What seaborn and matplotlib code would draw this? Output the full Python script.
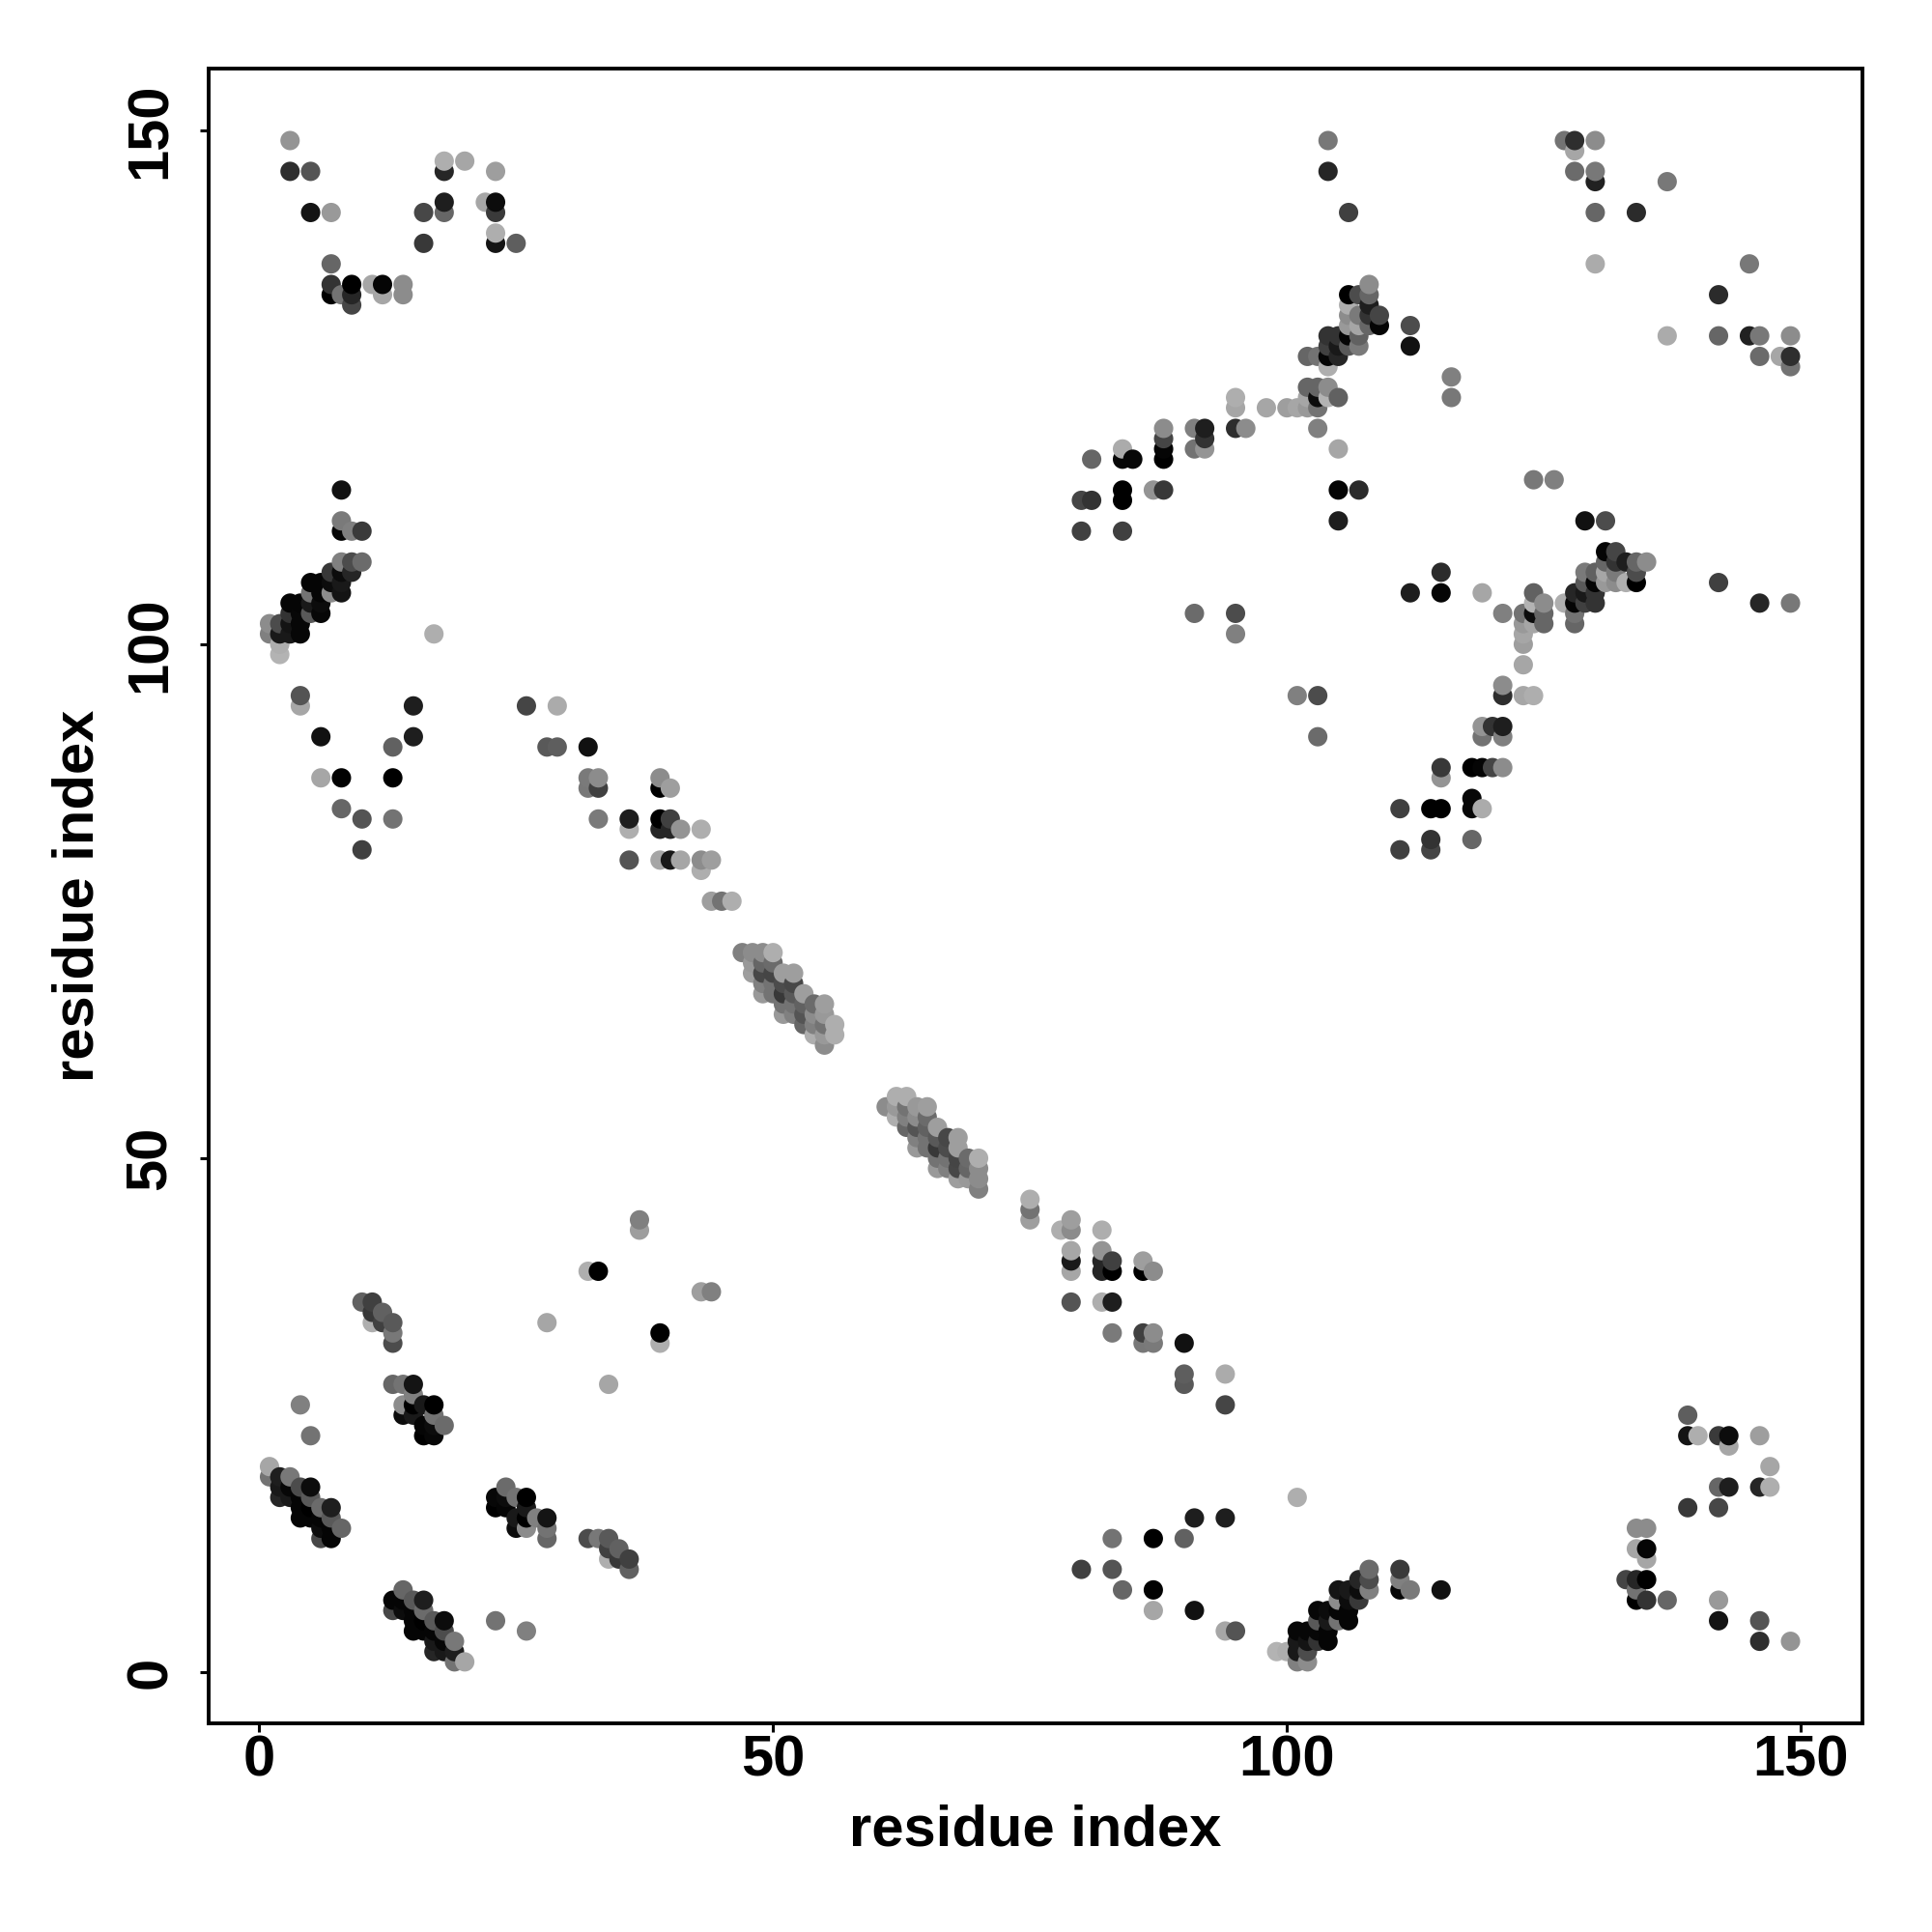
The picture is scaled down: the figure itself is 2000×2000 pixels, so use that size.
import pandas as pd
import matplotlib
matplotlib.use('Agg')
import matplotlib.pyplot as plt
import seaborn as sns

# contacts are listed once (i < j), the map is symmetric so they get mirrored below
# grey level: 0 = black, 1 = white

# top left block
top_i = [3, 3, 5, 5, 7, 7, 7, 7, 8, 9, 9, 9, 11, 12, 12, 14, 14, 16, 16, 18, 18, 20, 18, 18, 23, 22, 23, 23, 23, 23, 25]
top_j = [149, 146, 146, 142, 142, 137, 135, 134, 134, 135, 134, 133, 135, 135, 134, 135, 134, 142, 139, 146, 147, 147, 143, 142, 146, 143, 143, 142, 140, 139, 139]
top_s = [.58, .18, .33, .08, .6, .4, .2, 0, .45, 0, .15, .27, .65, .02, .65, .55, .55, .28, .22, .15, .68, .65, .12, .4, .62, .65, .05, .23, .68, .08, .37]

# strand 1-10 / 99-115
strand_i = [8, 8, 8, 9, 10, 8, 9, 10, 7, 8, 9, 5, 6, 7, 8, 5, 6, 7, 8, 3, 4, 5, 6, 3, 4, 5, 6, 1, 2, 3, 4, 1, 2, 3, 4, 2, 2, 17]
strand_j = [115, 112, 111, 111, 111, 108, 108, 108, 107, 107, 107, 106, 106, 106, 106, 105, 105, 105, 105, 104, 104, 104, 104, 103, 103, 103, 103, 102, 102, 102, 102, 101, 101, 101, 101, 100, 99, 101]
strand_s = [.07, .48, .03, .5, .23, .5, .3, .42, .22, .05, .15, .02, .02, .05, .1, .45, .02, .55, .08, .02, .02, .1, .05, .2, .03, .35, .03, .55, .3, .08, .03, .5, .1, .1, .03, .68, .7, .68]

# scattered 4-15 / 80-95
mid_i = [4, 4, 15, 6, 15, 13, 6, 8, 13, 8, 10, 13, 10]
mid_j = [95, 94, 94, 91, 91, 90, 87, 87, 87, 84, 83, 83, 80]
mid_s = [.33, .65, .12, .07, .12, .38, .65, .01, 0, .4, .33, .45, .25]

# anti-diagonal tail 26-46
tail_i = [26, 29, 28, 29, 32, 32, 33, 32, 33, 33, 36, 36, 39, 39, 40, 39, 40, 39, 40, 41, 43, 36, 39, 40, 41, 43, 44, 43, 44, 45, 46]
tail_j = [94, 94, 90, 90, 90, 87, 87, 86, 86, 83, 83, 82, 87, 86, 86, 83, 83, 82, 82, 82, 82, 79, 79, 79, 79, 79, 79, 78, 75, 75, 75]
tail_s = [.27, .67, .35, .37, .07, .48, .55, .47, .25, .48, .12, .68, .55, 0, .62, 0, .25, .15, .15, .58, .68, .33, .65, .1, .65, .55, .62, .68, .62, .45, .68]

# dense band 47-56 / 61-70
band_i = [47, 48, 48, 48, 49, 49, 49, 49, 49, 50, 50, 50, 50, 50, 51, 51, 51, 51, 51, 52, 52, 52, 52, 52, 53, 53, 53, 53, 54, 54, 54, 54, 55, 55, 55, 55, 55, 56, 56]
band_j = [70, 70, 69, 68, 70, 69, 68, 67, 66, 70, 69, 68, 67, 66, 68, 67, 66, 65, 64, 68, 67, 66, 65, 64, 66, 65, 64, 63, 65, 64, 63, 62, 65, 64, 63, 62, 61, 63, 62]
band_s = [.5, .55, .6, .62, .55, .4, .28, .5, .6, .68, .42, .27, .45, .45, .62, .3, .22, .45, .6, .62, .28, .35, .45, .5, .62, .38, .33, .4, .42, .55, .5, .68, .62, .6, .45, .6, .55, .68, .68]

# bottom left blocks
low_i = [1, 1, 2, 3, 2, 3, 4, 5, 2, 3, 4, 5, 4, 5, 6, 7, 4, 5, 6, 7, 6, 7, 8, 6, 7, 4, 5]
low_j = [20, 19, 19, 19, 18, 18, 18, 18, 17, 17, 17, 17, 16, 16, 16, 16, 15, 15, 15, 15, 14, 14, 14, 13, 13, 26, 23]
low_s = [.65, .45, .12, .47, .1, .03, .3, .05, .15, .1, .02, .35, .02, 0, .42, .12, .02, .02, .02, .35, .05, .02, .4, .28, .02, .5, .45]

hair_i = [13, 14, 15, 15, 14, 15, 16, 17, 14, 15, 17, 16, 17, 18, 16, 17, 10, 11, 11, 12, 11, 12, 13, 13, 13, 28, 32, 33, 37, 37]
hair_j = [28, 28, 28, 27, 26, 26, 26, 26, 25, 25, 25, 24, 24, 24, 23, 23, 36, 36, 35, 35, 34, 34, 34, 33, 32, 34, 39, 39, 44, 43]
hair_s = [.4, .45, .08, .5, .55, 0, .1, 0, .05, .1, .45, .02, .05, .42, 0, .03, .38, .25, .22, .38, .68, .25, .35, .47, .3, .65, .68, 0, .5, .62]

# top right strand 80-116 / 111-149
right_i = [104, 104, 106, 108, 108, 106, 107, 108, 106, 109, 107, 108, 106, 109, 108, 107, 106, 106, 104, 105, 107, 104, 105, 106, 107, 104, 105, 102, 103, 104, 112, 112, 102, 103, 104, 102, 103, 104, 105, 103, 102, 101, 100, 98, 95, 95, 103, 95, 96, 92, 91, 92, 91, 92, 88, 88, 88, 88, 84, 84, 85, 81, 105, 105, 107, 105, 84, 84, 80, 81, 87, 88, 80, 84, 91, 95, 95, 116, 116]
right_j = [149, 146, 142, 135, 134, 134, 134, 133, 133, 132, 132, 132, 132, 131, 131, 131, 131, 130, 130, 130, 130, 129, 129, 129, 129, 128, 128, 128, 128, 127, 131, 129, 125, 125, 125, 124, 124, 124, 124, 123, 123, 123, 123, 123, 124, 123, 121, 121, 121, 121, 121, 120, 119, 119, 121, 120, 119, 118, 119, 118, 118, 118, 119, 115, 115, 112, 115, 114, 114, 114, 115, 115, 111, 111, 103, 103, 101, 126, 124]
right_s = [.47, .15, .25, .55, .4, 0, .3, .12, .68, .27, .48, .2, .55, .02, .4, .65, .6, .02, .2, .2, .38, .25, .1, .35, .48, .02, .15, .4, .45, .68, .3, .07, .4, .4, .55, .65, .05, .7, .38, .45, .6, .65, .62, .65, .68, .65, .5, .18, .55, .12, .5, .2, .45, .58, .55, .27, .02, 0, .67, .03, .03, .4, .65, .02, .17, .12, 0, 0, .27, .2, .58, .22, .25, .25, .42, .3, .5, .5, .47]

# corner block 127-149
corner_i = [127, 128, 130, 128, 128, 130, 130, 137, 130, 134, 130]
corner_j = [149, 149, 149, 148, 146, 146, 145, 145, 142, 142, 137]
corner_s = [.45, .18, .55, .65, .42, .47, .13, .47, .4, .17, .67]

tick_vals = [0, 50, 100, 150]

res_i = top_i + strand_i + mid_i + tail_i + band_i + low_i + hair_i + right_i + corner_i
res_j = top_j + strand_j + mid_j + tail_j + band_j + low_j + hair_j + right_j + corner_j
shade = top_s + strand_s + mid_s + tail_s + band_s + low_s + hair_s + right_s + corner_s

upper = pd.DataFrame({'i': res_i, 'j': res_j, 'shade': shade})
lower = upper.rename(columns={'i': 'j', 'j': 'i'})
df = pd.concat([upper, lower], ignore_index=True)
# R drew them column by column, later points end up on top
df = df.sort_values(['i', 'j'])

sns.set_style('white')
plt.rcParams['font.family'] = ['Liberation Sans', 'DejaVu Sans']
plt.rcParams['font.weight'] = 'bold'

fig = plt.figure(figsize=(10, 10), dpi=200)
ax = fig.add_axes([216 / 2000, 1 - 1784 / 2000, (1928 - 216) / 2000, (1784 - 71) / 2000])

sns.scatterplot(data=df, x='i', y='j', hue='shade', palette='gray', hue_norm=(0, 1),
                s=52, linewidth=0, legend=False, ax=ax)

ax.set_xlim(-4.92, 156)
ax.set_ylim(-4.98, 156)
ax.set_xticks(tick_vals)
ax.set_yticks(tick_vals)
ax.tick_params(axis='both', direction='out', length=3.2, width=1.1, color='black',
               labelsize=21.5, labelcolor='black', bottom=True, left=True)
ax.tick_params(axis='x', pad=0.8)
ax.tick_params(axis='y', pad=8.4)
for lab in ax.get_yticklabels():
    lab.set_rotation(90)
    lab.set_va('center')

for sp in ax.spines.values():
    sp.set_visible(True)
    sp.set_color('black')
    sp.set_linewidth(1.4)

ax.set_xlabel('residue index', fontsize=21.5, fontweight='bold', color='black')
ax.set_ylabel('residue index', fontsize=21.5, fontweight='bold', color='black')
ax.xaxis.set_label_coords(0.5, -0.0485)
ax.yaxis.set_label_coords(-0.063, 0.5)

fig.savefig('out.png', dpi=200, facecolor='white')
